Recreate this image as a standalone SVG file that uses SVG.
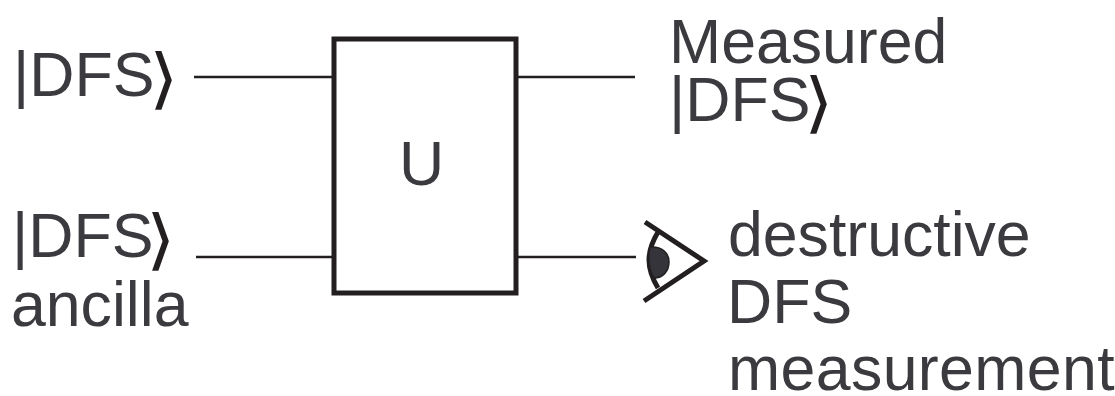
<svg xmlns="http://www.w3.org/2000/svg" width="1115" height="396" viewBox="0 0 1115 396">
<style>
text{font-family:"Liberation Sans",Arial,sans-serif;font-size:62.6px;fill:#3a3a3f}
text.k{font-family:"DejaVu Sans",sans-serif;font-size:66px;fill:#231f20}
text.t{letter-spacing:.4px}
.w{fill:none;stroke:#231f20;stroke-width:2.6}
.e{fill:none;stroke:#231f20;stroke-width:5}
</style>
<rect width="1115" height="396" fill="#fff"/>
<g id="connectors">
<path class="w" d="M194 77H334M196 257H334M516 77H635M516 257H636"/>
</g>
<g id="box"><rect x="334" y="39" width="182" height="254" fill="none" stroke="#231f20" stroke-width="5"/><text x="421.500" y="185" text-anchor="middle">U</text></g>
<g id="in1"><text x="13" y="96">|DFS</text><text class="k" transform="translate(149 101) scale(1.15 1)">⟩</text></g>
<g id="in2"><text x="12" y="257">|DFS</text><text class="k" transform="translate(146 261.500) scale(1.15 1)">⟩</text><text x="11" y="325.500">ancilla</text></g>
<g id="out1"><text x="669" y="63">Measured</text><text x="669" y="121">|DFS</text><text class="k" transform="translate(804 125) scale(1.15 1)">⟩</text></g>
<g id="eye"><path class="e" d="M645 222L704 261L644 301M658 232C646 252 646 268 658 288"/><path d="M650 247C662 246 669 253 669 262C669 271 663 278 654 278C648 268 648 257 650 247Z" fill="#34343a" stroke="#231f20" stroke-width="1.500"/></g>
<g id="out2"><text x="728" y="255.500">destructive</text><text x="727" y="323">DFS</text><text class="t" x="728" y="390">measurement</text></g>
</svg>
